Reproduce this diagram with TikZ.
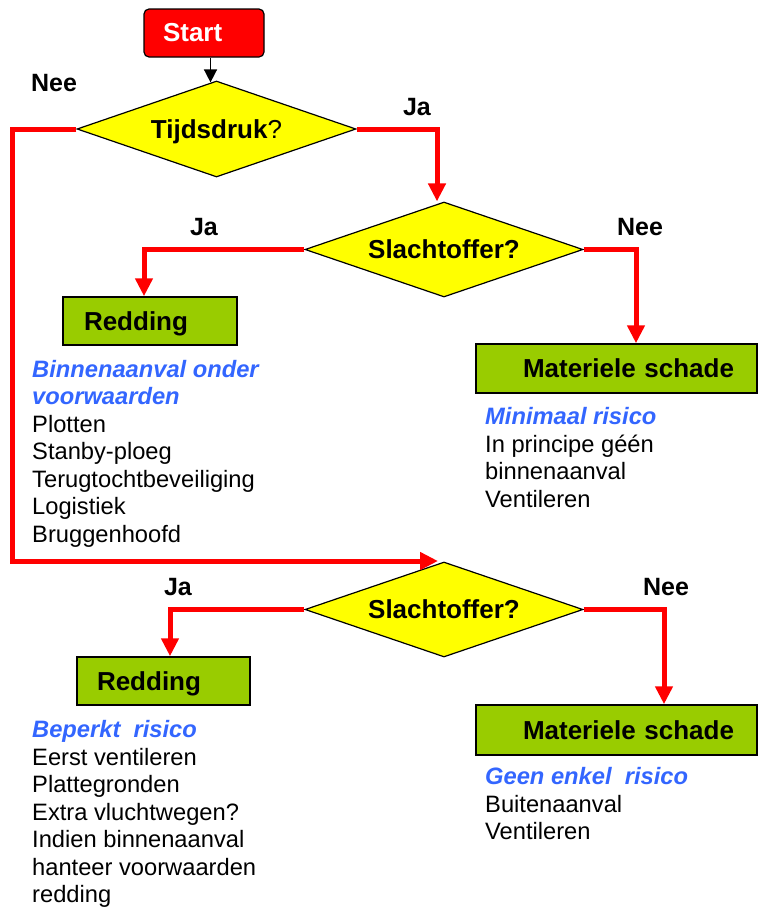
\documentclass[tikz,border=0pt]{standalone}
\usepackage{fontspec}
\setmainfont{Liberation Sans}
\usetikzlibrary{shapes.geometric,arrows.meta}
\definecolor{fcred}{HTML}{FF0000}
\definecolor{fcyellow}{HTML}{FFFF00}
\definecolor{fcgreen}{HTML}{99CC00}
\definecolor{fcblue}{HTML}{3366FF}
\newcommand{\bluehead}[1]{{\color{fcblue}\bfseries\itshape #1}}
\tikzset{
  decision/.style={diamond, draw=black, line width=1.2pt, fill=fcyellow, inner sep=0pt,
    aspect=2.9, minimum width=279pt, minimum height=96pt, text depth=0pt,
    font=\fontsize{26}{30}\selectfont\bfseries},
  actbox/.style={rectangle, draw=black, line width=1.5pt, fill=fcgreen, inner xsep=0pt,
    inner ysep=0pt, align=left, text depth=0pt, font=\fontsize{26}{30}\selectfont\bfseries},
  startbox/.style={rectangle, rounded corners=5pt, draw=black, line width=1.2pt, fill=fcred,
    text=white, inner xsep=0pt, inner ysep=0pt, align=left,
    font=\fontsize{26}{30}\selectfont\bfseries},
  flow/.style={draw=fcred, line width=5pt, -{Triangle[width=17pt,length=18pt]}},
  startflow/.style={draw=black, line width=1.5pt, -{Triangle[width=13pt,length=13pt]}},
  lbl/.style={font=\fontsize{25}{30}\selectfont\bfseries, inner sep=0pt},
  notes/.style={anchor=base west, align=left, inner sep=0pt,
    font=\fontsize{23.7}{27.5}\selectfont},
}
\begin{document}
\begin{tikzpicture}[x=1pt,y=-1pt]
\useasboundingbox[fill=white] (0,0) rectangle (762,916);

% nodes
\node[startbox, text width=120pt, minimum height=48pt] (start) at (204,33) {\hspace*{19pt}Start};
\node[decision] (d1) at (216.5,129) {Tijdsdruk\textmd{?}};
\node[decision, minimum width=278pt, minimum height=95pt] (d2) at (444,249.5) {Slachtoffer?};
\node[decision, minimum width=278pt, minimum height=95pt] (d3) at (444,609.5) {Slachtoffer?};
\node[actbox, text width=174pt, minimum height=48pt] (red1) at (150,321) {\hspace*{21pt}Redding};
\node[actbox, text width=173pt, minimum height=48pt] (red2) at (163.5,681) {\hspace*{20pt}Redding};
\node[actbox, text width=281pt, minimum height=49pt] (mat1) at (616.5,368.5) {\hspace*{47pt}Materiele schade};
\node[actbox, text width=281pt, minimum height=50pt] (mat2) at (616.5,730) {\hspace*{47pt}Materiele schade};

% labels
\node[lbl] (lnee1) at (54,83) {Nee};
\node[lbl] (lja1) at (417,107) {Ja};
\node[lbl] (lja2) at (204,227) {Ja};
\node[lbl] (lnee2) at (640,227) {Nee};
\node[lbl] (lja3) at (178,587) {Ja};
\node[lbl] (lnee3) at (666,587) {Nee};

% notes (anchor base = baseline of last line)
\node[notes] (n1) at (32,542) {\bluehead{Binnenaanval onder}\\ \bluehead{voorwaarden}\\ Plotten\\ Stanby-ploeg\\ Terugtochtbeveiliging\\ Logistiek\\ Bruggenhoofd};
\node[notes] (n2) at (485,507) {\bluehead{Minimaal risico}\\ In principe géén\\ binnenaanval\\ Ventileren};
\node[notes] (n3) at (32,902.5) {\bluehead{Beperkt~~risico}\\ Eerst ventileren\\ Plattegronden\\ Extra vluchtwegen?\\ Indien binnenaanval\\ hanteer voorwaarden\\ redding};
\node[notes] (n4) at (485,839.5) {\bluehead{Geen enkel~~risico}\\ Buitenaanval\\ Ventileren};

% connectors
\coordinate (c1) at (12,129);
\coordinate (c2) at (12,561);
\draw[startflow] ([xshift=-6pt]start.south -| d1.north) -- ([xshift=-6pt,yshift=-2pt]d1.north);
\draw[flow] (d1.east) -| ([xshift=-7pt]d2.north);
\draw[flow] (d1.west) -- (c1) -- (c2) -- ([xshift=-6pt]d3.north |- c2);
\draw[flow] (d2.west) -| ([xshift=-6pt]red1.north);
\draw[flow] (d2.east) -| ([xshift=19.5pt]mat1.north);
\draw[flow] (d3.west) -| ([xshift=6.5pt]red2.north);
\draw[flow] (d3.east) -| ([xshift=47.5pt]mat2.north);
\end{tikzpicture}
\end{document}
